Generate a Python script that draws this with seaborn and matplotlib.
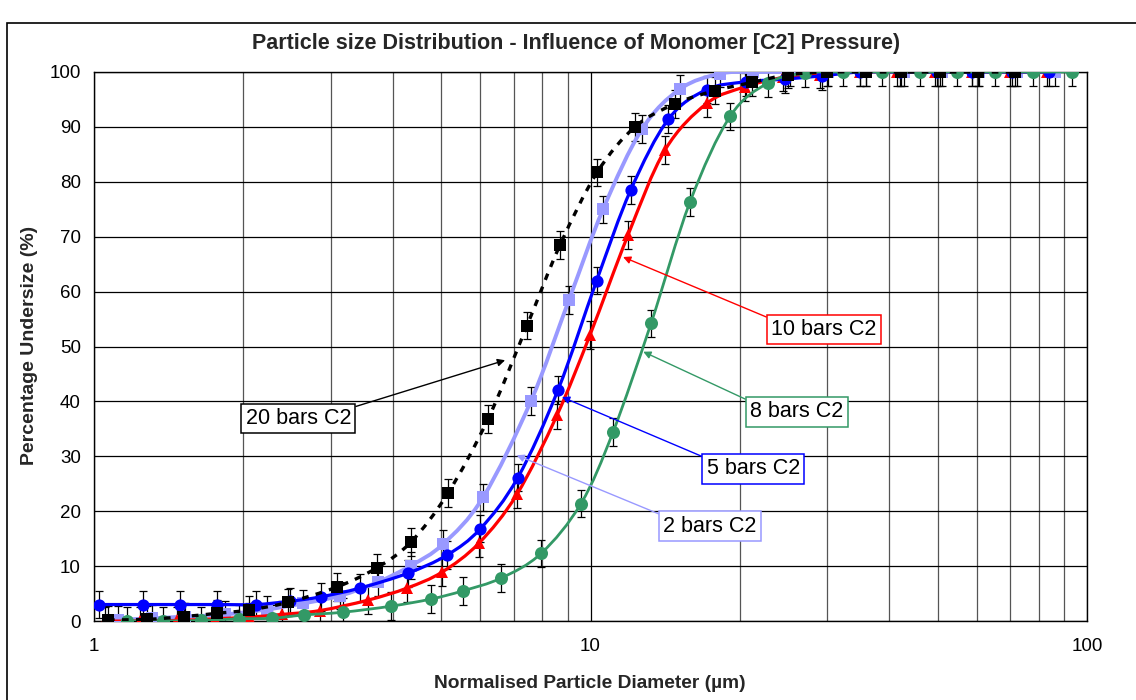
import matplotlib
matplotlib.use("Agg")
import matplotlib.pyplot as plt
from matplotlib.patches import Rectangle, PathPatch
from matplotlib.path import Path
import numpy as np
import pandas as pd
import seaborn as sns

# ---- measured size distributions (normalised diameter in µm, cumulative % undersize) ----
d_2bar = [1.118, 1.309, 1.525, 1.836, 2.231, 2.636, 3.130, 3.733, 4.350, 5.046, 6.074,
          7.589, 9.051, 10.60, 12.70, 15.15, 18.23, 21.25, 25.22, 30.09, 35.88, 42.80,
          51.05, 60.61, 72.28, 86.22]
u_2bar = [0.2, 0.5, 0.8, 1.2, 2.1, 3.2, 4.6, 7.1, 10.1, 14.0, 22.5,
          40.1, 58.5, 75.0, 89.6, 96.9, 99.7, 100, 100, 100, 100, 100,
          100, 100, 100, 100]

d_5bar = [1.025, 1.257, 1.490, 1.772, 2.117, 2.481, 2.861, 3.434, 4.283, 5.140, 6.000,
          7.136, 8.602, 10.29, 12.05, 14.35, 17.14, 20.54, 24.64, 29.22, 34.89, 42.02,
          49.82, 58.75, 70.51, 83.99]
u_5bar = [3.0, 3.0, 3.0, 3.0, 3.0, 3.6, 4.4, 6.0, 8.7, 12.0, 16.8,
          26.1, 42.1, 62.0, 78.5, 91.4, 96.8, 98.2, 98.7, 99.3, 100, 100,
          100, 100, 100, 100]

d_8bar = [1.166, 1.377, 1.643, 1.959, 2.283, 2.649, 3.174, 3.965, 4.773, 5.536, 6.601,
          7.951, 9.570, 11.10, 13.24, 15.86, 19.10, 22.78, 27.04, 32.26, 38.65, 46.09,
          54.72, 65.26, 77.85, 93.29]
u_8bar = [0.0, 0.0, 0.1, 0.4, 0.5, 1.1, 1.6, 2.7, 4.0, 5.5, 7.8,
          12.3, 21.4, 34.4, 54.2, 76.3, 91.9, 98.0, 99.8, 100, 100, 100,
          100, 100, 100, 100]

d_10bar = [1.052, 1.238, 1.470, 1.753, 2.052, 2.391, 2.852, 3.563, 4.270, 5.022, 5.963,
           7.112, 8.562, 9.977, 11.90, 14.13, 17.16, 20.48, 24.42, 28.99, 34.89, 41.44,
           49.42, 58.67, 69.96, 83.09]
u_10bar = [0.0, 0.0, 0.1, 0.4, 0.7, 1.2, 1.9, 3.8, 6.0, 8.9, 14.2,
           23.1, 37.5, 52.1, 70.3, 85.8, 94.3, 97.3, 99.0, 99.5, 100, 100,
           100, 100, 100, 100]

d_20bar = [1.067, 1.279, 1.518, 1.769, 2.052, 2.459, 3.086, 3.715, 4.350, 5.164, 6.217,
           7.450, 8.683, 10.31, 12.29, 14.80, 17.81, 21.15, 24.99, 29.95, 35.88, 42.22,
           50.57, 60.33, 71.61]
u_20bar = [0.2, 0.3, 0.8, 1.4, 2.0, 3.4, 6.2, 9.7, 14.4, 23.3, 36.8,
           53.8, 68.5, 81.7, 90.0, 94.2, 96.6, 98.1, 99.5, 100, 100, 100,
           100, 100, 100]

error_pct = 2.5

series_names = ["2 bars C2", "10 bars C2", "5 bars C2", "8 bars C2", "20 bars C2"]
series_x = [d_2bar, d_10bar, d_5bar, d_8bar, d_20bar]
series_y = [u_2bar, u_10bar, u_5bar, u_8bar, u_20bar]

colors = {"2 bars C2": "#9999FF", "5 bars C2": "#0000FF", "8 bars C2": "#339966",
          "10 bars C2": "#FF0000", "20 bars C2": "#000000"}
markers = {"2 bars C2": "s", "5 bars C2": "o", "8 bars C2": "o",
           "10 bars C2": "^", "20 bars C2": "s"}
msizes = {"2 bars C2": 8.2, "5 bars C2": 8.8, "8 bars C2": 9.4,
          "10 bars C2": 9.2, "20 bars C2": 8.2}
lwidths = {"2 bars C2": 2.8, "5 bars C2": 2.3, "8 bars C2": 2.0,
           "10 bars C2": 2.3, "20 bars C2": 2.4}

frames = []
for name, xs, ys in zip(series_names, series_x, series_y):
    frames.append(pd.DataFrame({"diameter": xs, "undersize": ys, "series": name}))
df = pd.concat(frames, ignore_index=True)


def smoothed_path(xs, ys):
    """Cubic Bezier path through the points (Catmull-Rom tangents in log-x space)."""
    lx = np.log10(np.asarray(xs, float))
    y = np.asarray(ys, float)
    p = np.column_stack([lx, y])
    n = len(p)
    verts = [p[0]]
    codes = [Path.MOVETO]
    for i in range(n - 1):
        p0 = p[i - 1] if i > 0 else p[i]
        p3 = p[i + 2] if i + 2 < n else p[i + 1]
        c1 = p[i] + (p[i + 1] - p0) / 6.0
        c2 = p[i + 1] - (p3 - p[i]) / 6.0
        verts += [c1, c2, p[i + 1]]
        codes += [Path.CURVE4] * 3
    verts = np.array(verts)
    verts[:, 0] = 10 ** verts[:, 0]
    return Path(verts, codes)


sns.set_style("white")
plt.rcParams["font.family"] = ["Liberation Sans", "DejaVu Sans"]

fig = plt.figure(figsize=(11.36, 7.0), dpi=100)
ax = fig.add_axes([94 / 1136, 1 - 621 / 700, (1087 - 94) / 1136, (621 - 72) / 700])

ax.set_xscale("log")
ax.set_xlim(1, 100)
ax.set_ylim(0, 100)

# error bars first, then the smoothed curves and the markers on top
for name in series_names:
    sub = df[df["series"] == name]
    ax.errorbar(sub["diameter"], sub["undersize"], yerr=error_pct, fmt="none",
                ecolor="black", elinewidth=0.9, capsize=3.2, capthick=0.9,
                zorder=3)

for i, name in enumerate(series_names):
    sub = df[df["series"] == name]
    dashed = name == "20 bars C2"
    curve = PathPatch(smoothed_path(sub["diameter"], sub["undersize"]),
                      fill=False, ec=colors[name], lw=lwidths[name],
                      linestyle=(0, (2.0, 2.2)) if dashed else "-",
                      capstyle="butt", zorder=4 + 2 * i, transform=ax.transData)
    ax.add_patch(curve)
    sns.lineplot(data=sub, x="diameter", y="undersize", ax=ax, sort=False,
                 color=colors[name], marker=markers[name], markersize=msizes[name],
                 markeredgewidth=0, linestyle="", legend=False,
                 zorder=5 + 2 * i, errorbar=None)

# grid and frame
ax.set_yticks(np.arange(0, 101, 10))
ax.xaxis.grid(True, which="major", color="black", lw=0.9)
ax.xaxis.grid(True, which="minor", color="#555555", lw=0.9)
ax.yaxis.grid(True, which="major", color="black", lw=0.9)
ax.set_axisbelow(True)
for sp in ax.spines.values():
    sp.set_color("black")
    sp.set_linewidth(1.0)

ax.xaxis.set_major_formatter(matplotlib.ticker.FuncFormatter(lambda v, p: f"{v:g}"))
ax.xaxis.set_minor_formatter(matplotlib.ticker.NullFormatter())
ax.tick_params(axis="both", which="major", direction="out", length=4.5, width=0.9,
               color="black", labelsize=13.5, labelcolor="black")
ax.tick_params(axis="x", which="major", pad=8)
ax.tick_params(axis="y", which="major", pad=5)
ax.tick_params(axis="x", which="minor", length=0)
ax.set_xlabel("")
ax.set_ylabel("")

# callout labels
callouts = [
    ("10 bars C2", (11.63, 66.3), (29.5, 53.1), (0, 1)),
    ("8 bars C2", (12.77, 49.05), (26.02, 38.1), (0, 1)),
    ("5 bars C2", (8.76, 40.8), (21.28, 27.7), (0, 1)),
    ("2 bars C2", (7.10, 30.2), (17.41, 17.25), (0, 1)),
    ("20 bars C2", (6.73, 47.5), (2.58, 36.9), (1, 1)),
]
for name, tip, pos, rel in callouts:
    c = colors[name]
    ax.annotate(name, xy=tip, xytext=pos, ha="center", va="center",
                fontsize=15.5, color="black", zorder=20,
                bbox=dict(boxstyle="square,pad=0.2", fc="white", ec=c, lw=1.1),
                arrowprops=dict(arrowstyle="-|>", color=c, lw=1.0, shrinkA=0,
                                shrinkB=0, relpos=rel, mutation_scale=11))

# titles
fig.text(576 / 1136, 1 - 44 / 700,
         "Particle size Distribution - Influence of Monomer [C2] Pressure)",
         ha="center", va="center", fontsize=15.5, fontweight="bold")
fig.text(590 / 1136, 1 - 683 / 700, "Normalised Particle Diameter (µm)",
         ha="center", va="center", fontsize=13.8, fontweight="bold")
fig.text(30 / 1136, 1 - 345 / 700, "Percentage Undersize (%)",
         ha="center", va="center", fontsize=14, fontweight="bold", rotation=90)

# outer chart border
fig.patches.append(Rectangle((7 / 1136, -0.05), 1.2, 0.05 + (1 - 23 / 700),
                             transform=fig.transFigure, fill=False,
                             ec="black", lw=1.2))

fig.savefig("out.png", dpi=100)
